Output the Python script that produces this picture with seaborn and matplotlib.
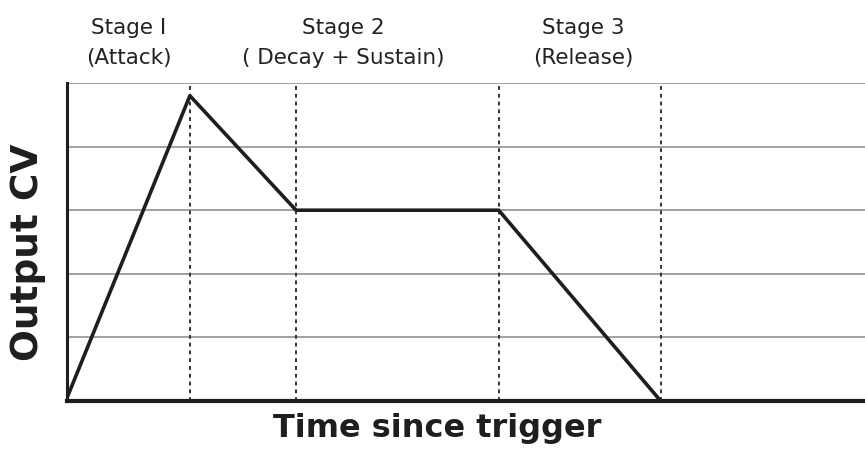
import numpy as np
import pandas as pd
import matplotlib
matplotlib.use('Agg')
import matplotlib.pyplot as plt
import seaborn as sns

# envelope corner points (time units 0..100, CV units 0..5)
env_time = [0, 15.4, 28.7, 54.1, 74.4]
env_cv = [0.05, 4.8, 3.0, 3.0, 0.0]
stage_bounds = [15.4, 28.7, 54.1, 74.4]
stage_labels = ['Stage I\n(Attack)', 'Stage 2\n( Decay + Sustain)', 'Stage 3\n(Release)']
stage_centers = [7.7, 34.6, 64.7]
grid_levels = [1, 2, 3, 4, 5]

sns.set_theme(style='white')
plt.rcParams['font.family'] = ['DejaVu Sans']

fig = plt.figure(figsize=(8.65, 4.5), dpi=100)
ax = fig.add_axes([67 / 865, 1 - 401 / 450, 1 - 67 / 865, (401 - 83) / 450])

df = pd.DataFrame({'time': env_time, 'cv': env_cv})

for g in grid_levels:
    ax.axhline(g, color='#9a9a9a', lw=1.3, zorder=1)
for b in stage_bounds:
    ax.axvline(b, color='#333333', lw=1.4, ls=(0, (2, 2)), zorder=1)

sns.lineplot(data=df, x='time', y='cv', color='#1e1e1e', lw=2.6, ax=ax, zorder=3)

ax.set_xlim(0, 100)
ax.set_ylim(0, 5)
ax.set_xticks([])
ax.set_yticks([])
ax.set_xlabel('')
ax.set_ylabel('')
for s in ['top', 'right']:
    ax.spines[s].set_visible(False)
ax.spines['left'].set_color('#1e1e1e')
ax.spines['left'].set_linewidth(2.2)
ax.spines['bottom'].set_color('#1e1e1e')
ax.spines['bottom'].set_linewidth(3)

for c, lab in zip(stage_centers, stage_labels):
    ax.text(c, 1.0 + 40 / 318, lab, transform=ax.get_xaxis_transform(),
            ha='center', va='center', fontsize=15.5, color='#222222',
            linespacing=1.6)

fig.text(437 / 865, 1 - 429 / 450, 'Time since trigger', ha='center', va='center',
         fontsize=23, fontweight='bold', color='#1e1e1e')
fig.text(28 / 865, 1 - 252 / 450, 'Output CV', ha='center', va='center',
         rotation=90, fontsize=27, fontweight='bold', color='#1e1e1e')

fig.savefig('out.png', dpi=100)
